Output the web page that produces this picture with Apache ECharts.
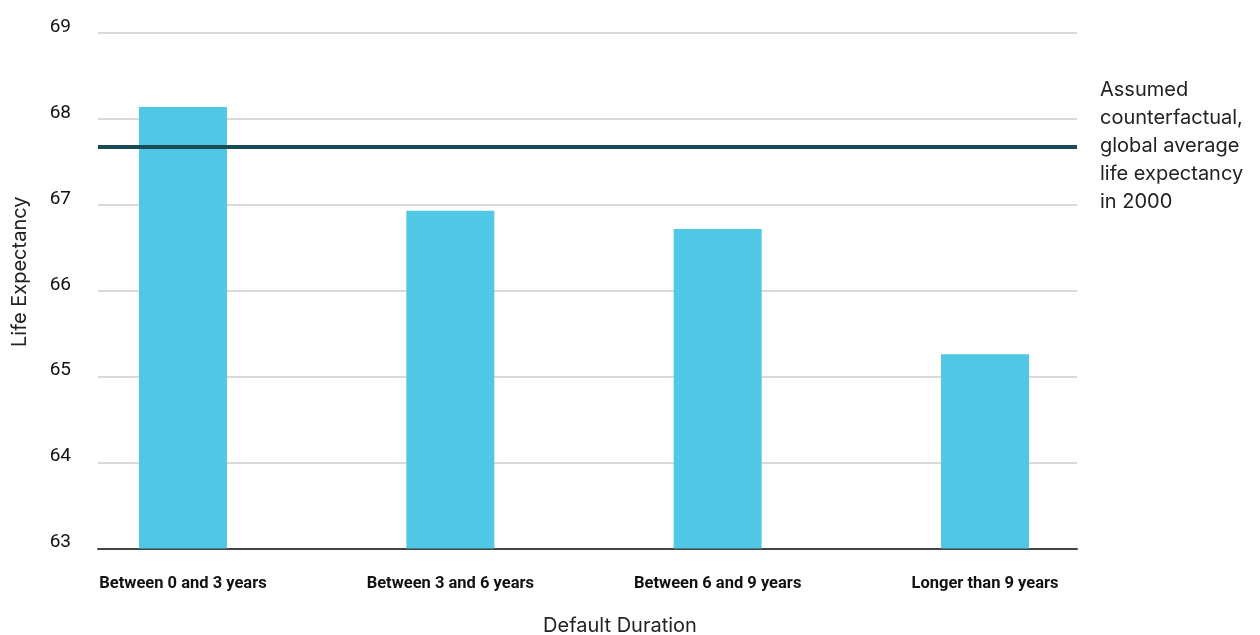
<!DOCTYPE html>
<html>
<head>
<meta charset="utf-8">
<script src="https://cdn.jsdelivr.net/npm/echarts@6/dist/echarts.min.js"></script>
<style>
  html, body { margin: 0; padding: 0; background: #fff; }
  #chart { width: 1260px; height: 635px; }
</style>
</head>
<body>
<div id="chart"></div>
<script>
// data
var categories = ['Between 0 and 3 years', 'Between 3 and 6 years', 'Between 6 and 9 years', 'Longer than 9 years']
var lifeExpectancy = [68.14, 66.93, 66.72, 65.26]
var counterfactual = 67.68
var counterfactualText = 'Assumed\ncounterfactual,\nglobal average\nlife expectancy\nin 2000'
var yTicks = { min: 63, max: 69, step: 1 }

var myChart = echarts.init(document.getElementById('chart'))

var labelFont = 'Roboto, "Noto Sans", sans-serif'
var textFont = 'Inter, "Noto Sans", sans-serif'

var option = {
  animation: false,
  grid: [
    // grid with gridlines, axis line and reference line
    { left: 98, right: 183, top: 33, bottom: 86.5, outerBoundsMode: 'none' },
    // grid holding the bars (bar centres are wider apart than the gridlines)
    { left: 49.3, right: 141.3, top: 33, bottom: 86.5, outerBoundsMode: 'none' }
  ],
  xAxis: [
    {
      gridIndex: 0,
      type: 'category',
      data: categories,
      axisLine: { lineStyle: { color: '#444', width: 2 } },
      axisTick: { show: false },
      axisLabel: { show: false }
    },
    {
      gridIndex: 1,
      type: 'category',
      data: categories,
      axisLine: { show: false },
      axisTick: { show: false },
      axisLabel: {
        interval: 0,
        margin: 27,
        color: '#111',
        fontFamily: labelFont,
        fontWeight: 'bold',
        fontSize: 16.5
      },
      name: 'Default Duration',
      nameLocation: 'middle',
      nameGap: 67,
      nameTextStyle: {
        color: '#222',
        fontFamily: textFont,
        fontSize: 20,
        padding: [0, 0, 0, 72]
      }
    }
  ],
  yAxis: [
    {
      gridIndex: 0,
      type: 'value',
      min: yTicks.min,
      max: yTicks.max,
      interval: yTicks.step,
      axisLine: { show: false },
      axisTick: { show: false },
      axisLabel: {
        margin: 27,
        color: '#111',
        fontFamily: labelFont,
        fontSize: 19,
        verticalAlign: 'bottom',
        lineHeight: 12
      },
      splitLine: { lineStyle: { color: '#cccccc', width: 1.5 } },
      name: 'Life Expectancy',
      nameLocation: 'middle',
      nameGap: 68,
      nameTextStyle: {
        color: '#222',
        fontFamily: textFont,
        fontSize: 20,
        padding: [0, 0, 0, 38]
      }
    },
    {
      gridIndex: 1,
      type: 'value',
      min: yTicks.min,
      max: yTicks.max,
      show: false,
      splitLine: { show: false }
    }
  ],
  series: [
    {
      type: 'bar',
      xAxisIndex: 1,
      yAxisIndex: 1,
      data: lifeExpectancy,
      barWidth: 88,
      itemStyle: { color: '#50c7e5' },
      z: 2
    },
    {
      type: 'line',
      xAxisIndex: 0,
      yAxisIndex: 0,
      data: [],
      z: 5,
      markLine: {
        silent: true,
        symbol: 'none',
        lineStyle: { color: '#1b4b57', width: 4, type: 'solid' },
        label: {
          show: true,
          position: 'end',
          distance: 23,
          formatter: counterfactualText,
          align: 'left',
          verticalAlign: 'middle',
          color: '#222',
          fontFamily: textFont,
          fontSize: 20,
          lineHeight: 28
        },
        data: [{ yAxis: counterfactual }]
      }
    }
  ]
}

myChart.setOption(option)
</script>
</body>
</html>
